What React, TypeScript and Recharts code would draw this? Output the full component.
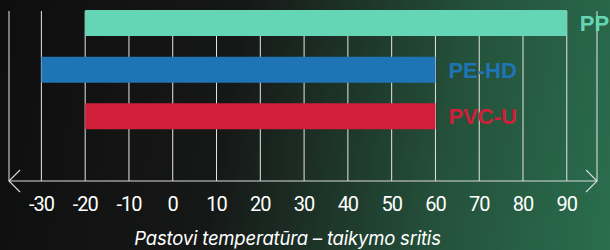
import React from 'react';
import { BarChart, Bar, XAxis, YAxis, CartesianGrid, Cell, LabelList } from 'recharts';

const materials = ['PP', 'PE-HD', 'PVC-U'];
const minTemps = [-20, -30, -20];
const maxTemps = [90, 60, 60];
const barColors = ['#64d6b6', '#1f74b5', '#d11f3a'];
const tempTicks = [-30, -20, -10, 0, 10, 20, 30, 40, 50, 60, 70, 80, 90];

const data = materials.map((name, i) => ({ name, range: [minTemps[i], maxTemps[i]] }));

const BarLabel = (props: any) => {
  const { x, y, width, height, value, index } = props;
  return (
    <text
      x={x + width + 13}
      y={y + height / 2}
      dy="0.36em"
      fill={barColors[index]}
      fontFamily="'Liberation Sans', Arial, sans-serif"
      fontWeight={700}
      fontSize={22}
    >
      {value}
    </text>
  );
};

const App: React.FC = () => {
  return (
    <div
      style={{
        position: 'absolute',
        left: 0,
        top: 0,
        width: 610,
        height: 250,
        background: 'linear-gradient(100deg, #0e0e0e 0%, #161817 38%, #24503a 72%, #2a6e4e 100%)',
        fontFamily: 'Roboto, sans-serif',
      }}
    >
      <BarChart
        width={610}
        height={250}
        data={data}
        layout="vertical"
        margin={{ top: 0, right: 13, bottom: 29, left: 9 }}
        barSize={26}
      >
        <defs>
          <marker
            id="axisArrow"
            markerWidth={16}
            markerHeight={26}
            refX={12}
            refY={12}
            orient="auto-start-reverse"
            markerUnits="userSpaceOnUse"
          >
            <path d="M1 1 L12 12 L1 23" fill="none" stroke="#dcdcdc" strokeWidth={1.1} />
          </marker>
        </defs>
        <CartesianGrid horizontal={false} stroke="#e6e6e6" strokeWidth={1} y={11} height={170} />
        <XAxis
          type="number"
          domain={[-37.4, 96.9]}
          ticks={tempTicks}
          interval={0}
          height={40}
          tickLine={false}
          tickSize={6}
          tickMargin={10}
          axisLine={{ stroke: '#dcdcdc', strokeWidth: 1.2, markerStart: 'url(#axisArrow)', markerEnd: 'url(#axisArrow)' }}
          tick={{ fill: '#ffffff', fontSize: 20, letterSpacing: -1, fontFamily: 'Roboto, sans-serif' }}
        />
        <YAxis type="category" dataKey="name" hide padding={{ top: 0, bottom: 41 }} />
        <Bar dataKey="range" isAnimationActive={false}>
          {data.map((d, i) => (
            <Cell key={d.name} fill={barColors[i]} />
          ))}
          <LabelList dataKey="name" content={BarLabel} />
        </Bar>
      </BarChart>
      <div
        style={{
          position: 'absolute',
          left: 0,
          width: 575,
          top: 227,
          textAlign: 'center',
          color: '#ffffff',
          fontStyle: 'italic',
          fontSize: 18.5,
          letterSpacing: -0.2,
          fontFamily: 'Inter, sans-serif',
        }}
      >
        Pastovi temperatūra – taikymo sritis
      </div>
    </div>
  );
};

export default App;
